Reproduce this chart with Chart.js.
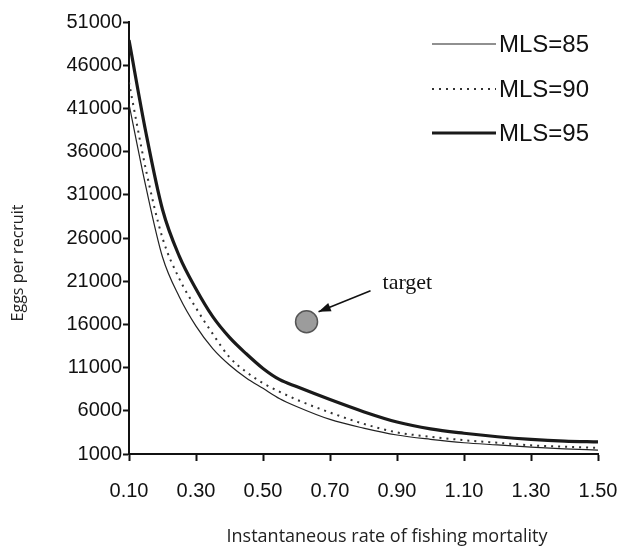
<!DOCTYPE html>
<html>
<head>
<meta charset="utf-8">
<script src="https://cdn.jsdelivr.net/npm/chart.js@4"></script>
<style>
html, body { margin: 0; padding: 0; background: #fff; }
</style>
</head>
<body>
<canvas id="graficoHuevos" width="627" height="548"></canvas>
<script>
// Datos
const mortalidad = [0.10, 0.15, 0.20, 0.25, 0.30, 0.35, 0.40, 0.45, 0.50, 0.55, 0.60, 0.70, 0.80, 0.90, 1.00, 1.10, 1.20, 1.30, 1.40, 1.50];
const mls85 = [41500, 32000, 23800, 19200, 15800, 13200, 11300, 9800, 8600, 7400, 6500, 5000, 4000, 3200, 2700, 2300, 2050, 1800, 1600, 1450];
const mls90 = [44000, 34000, 26000, 21300, 17900, 14900, 12200, 10500, 9200, 8200, 7300, 5800, 4500, 3500, 3000, 2600, 2300, 2000, 1850, 1700];
const mls95 = [48900, 38300, 29300, 23900, 20100, 16900, 14500, 12600, 10900, 9600, 8800, 7300, 5900, 4700, 3900, 3400, 3000, 2700, 2500, 2400];
const objetivo = { x: 0.63, y: 16300 };
const etiquetasSerie = ['MLS=85', 'MLS=90', 'MLS=95'];
const ticksX = [0.10, 0.30, 0.50, 0.70, 0.90, 1.10, 1.30, 1.50];
const ticksY = [1000, 6000, 11000, 16000, 21000, 26000, 31000, 36000, 41000, 46000, 51000];

const puntos = serie => mortalidad.map((f, i) => ({ x: f, y: serie[i] }));

const estilos = [
    { borderColor: '#222', borderWidth: 1.2, borderDash: [] },
    { borderColor: '#333', borderWidth: 2, borderDash: [2, 5] },
    { borderColor: '#1a1a1a', borderWidth: 3.2, borderDash: [] }
];

// leyenda, títulos y anotación dibujados a mano
const extras = {
    id: 'extras',
    afterDraw(chart) {
        const c = chart.ctx;
        c.save();
        // leyenda
        [44, 89, 133].forEach((y, i) => {
            const e = estilos[i];
            c.strokeStyle = e.borderColor;
            c.lineWidth = e.borderWidth;
            c.setLineDash(e.borderDash);
            c.beginPath();
            c.moveTo(432, y);
            c.lineTo(496, y);
            c.stroke();
            c.setLineDash([]);
            c.fillStyle = '#111';
            c.font = '24px "Liberation Sans", Arial, sans-serif';
            c.textBaseline = 'middle';
            c.textAlign = 'left';
            c.fillText(etiquetasSerie[i], 499, y + 1);
        });

        // flecha y texto "target"
        const px = chart.scales.x.getPixelForValue(objetivo.x);
        const py = chart.scales.y.getPixelForValue(objetivo.y);
        const x1 = px + 64, y1 = py - 31, x2 = px + 12, y2 = py - 10;
        c.strokeStyle = '#111';
        c.lineWidth = 1.5;
        c.beginPath();
        c.moveTo(x1, y1);
        c.lineTo(x2, y2);
        c.stroke();
        const ang = Math.atan2(y2 - y1, x2 - x1);
        c.fillStyle = '#111';
        c.beginPath();
        c.moveTo(x2, y2);
        c.lineTo(x2 - 13 * Math.cos(ang - 0.35), y2 - 13 * Math.sin(ang - 0.35));
        c.lineTo(x2 - 13 * Math.cos(ang + 0.35), y2 - 13 * Math.sin(ang + 0.35));
        c.closePath();
        c.fill();
        c.font = '22px "Liberation Serif", "Times New Roman", serif';
        c.textAlign = 'left';
        c.textBaseline = 'alphabetic';
        c.fillText('target', px + 76, py - 33);

        // títulos de ejes
        c.fillStyle = '#222';
        c.font = '18px "Open Sans", "Noto Sans", sans-serif';
        c.textAlign = 'center';
        c.textBaseline = 'middle';
        c.fillText('Instantaneous rate of fishing mortality', 387, 537);
        c.translate(18, 263);
        c.rotate(-Math.PI / 2);
        c.font = '16px "Open Sans", "Noto Sans", sans-serif';
        c.fillText('Eggs per recruit', 0, 0);
        c.restore();
    }
};

const ctx = document.getElementById('graficoHuevos').getContext('2d');

let chart = new Chart(ctx, {
    type: 'line',
    data: {
        datasets: [
            {
                label: 'target',
                data: [objetivo],
                showLine: false,
                pointRadius: 11,
                pointBackgroundColor: '#9c9c9c',
                pointBorderColor: '#555',
                pointBorderWidth: 1.5
            },
            ...[mls85, mls90, mls95].map((serie, i) => ({
                label: etiquetasSerie[i],
                data: puntos(serie),
                borderColor: estilos[i].borderColor,
                borderWidth: estilos[i].borderWidth,
                borderDash: estilos[i].borderDash,
                pointRadius: 0,
                fill: false,
                cubicInterpolationMode: 'monotone'
            }))
        ]
    },
    options: {
        responsive: false,
        animation: false,
        devicePixelRatio: 1,
        layout: { padding: { top: 22, right: 29, left: 0, bottom: 0 } },
        plugins: {
            legend: { display: false },
            tooltip: { enabled: false }
        },
        scales: {
            x: {
                type: 'linear',
                min: 0.1,
                max: 1.5,
                afterBuildTicks: s => { s.ticks = ticksX.map(v => ({ value: v })); },
                afterFit: s => { s.height = 94; s.paddingRight = 0; s.paddingLeft = 0; },
                border: { display: true, color: '#111', width: 2 },
                grid: { drawOnChartArea: false, drawTicks: true, tickLength: 7, tickColor: '#111', tickWidth: 2 },
                ticks: {
                    padding: 18,
                    color: '#111',
                    maxRotation: 0,
                    autoSkip: false,
                    font: { family: '"Liberation Sans", Arial, sans-serif', size: 20 },
                    callback: v => Number(v).toFixed(2)
                }
            },
            y: {
                type: 'linear',
                min: 1000,
                max: 51000,
                afterBuildTicks: s => { s.ticks = ticksY.map(v => ({ value: v })); },
                afterFit: s => { s.width = 129; s.paddingTop = 0; s.paddingBottom = 0; },
                border: { display: true, color: '#111', width: 2 },
                grid: { drawOnChartArea: false, drawTicks: true, tickLength: 6, tickColor: '#111', tickWidth: 2 },
                ticks: {
                    padding: 1,
                    color: '#111',
                    autoSkip: false,
                    font: { family: '"Liberation Sans", Arial, sans-serif', size: 20 },
                    callback: v => String(v)
                }
            }
        }
    },
    plugins: [extras]
});
</script>
</body>
</html>
